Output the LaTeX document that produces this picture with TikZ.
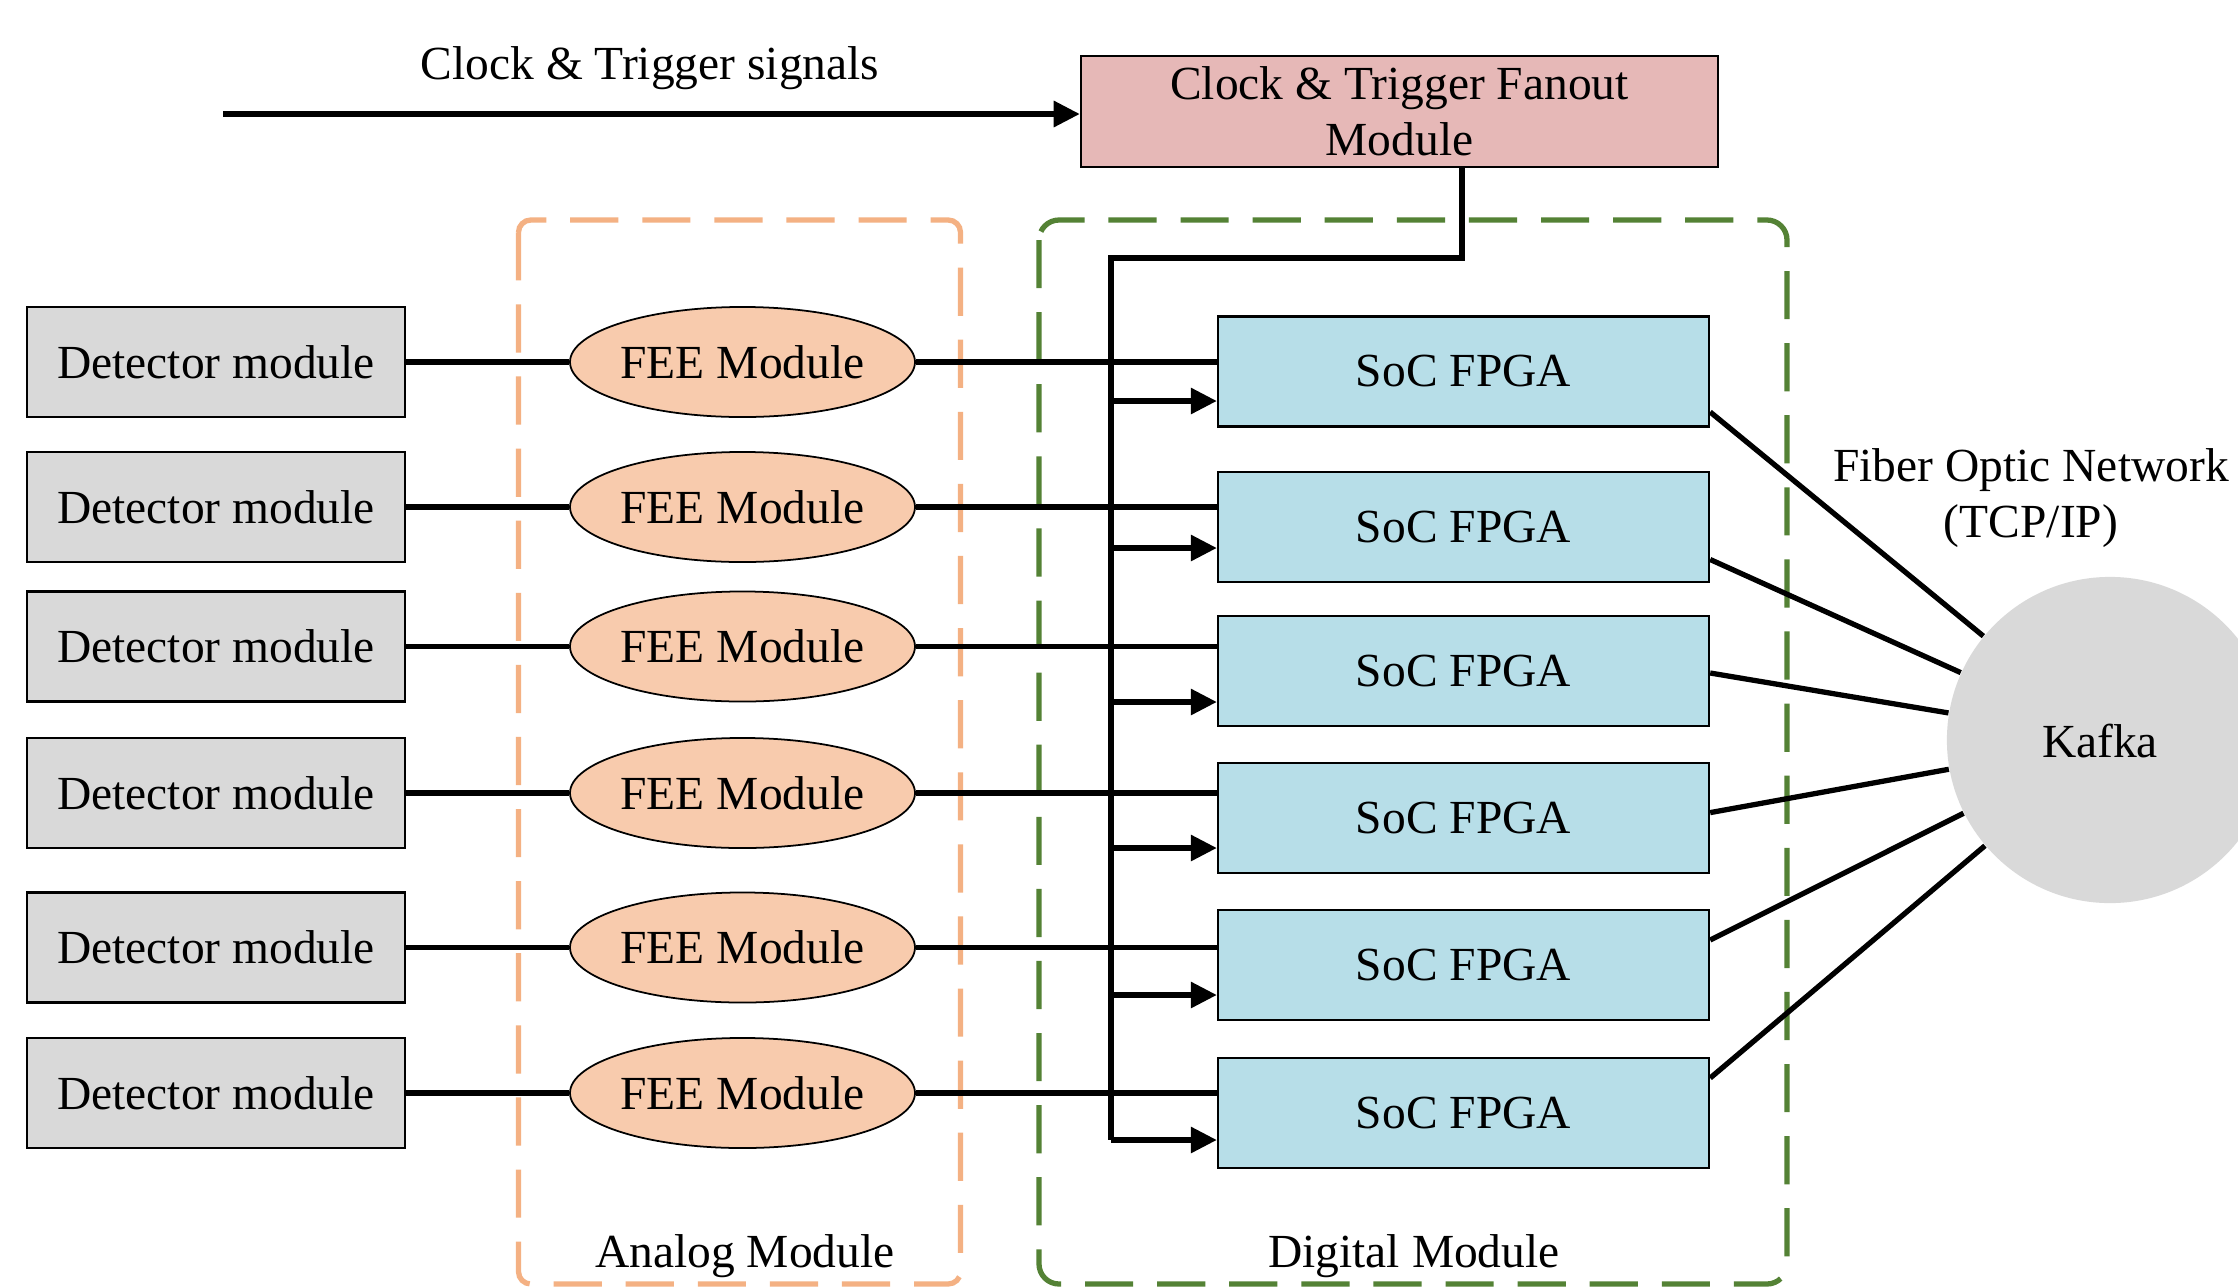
\documentclass[tikz,border=0pt]{standalone}
\usepackage{fontspec}
\setmainfont{Liberation Serif}
\usetikzlibrary{arrows.meta,calc,shapes.geometric}
\definecolor{detgray}{HTML}{D9D9D9}
\definecolor{feeorange}{HTML}{F8CBAD}
\definecolor{socblue}{HTML}{B7DEE8}
\definecolor{fanpink}{HTML}{E6B8B7}
\definecolor{anaorange}{HTML}{F4B183}
\definecolor{diggreen}{HTML}{548235}
\begin{document}
\begin{tikzpicture}[x=0.01cm,y=-0.01cm,
  every node/.style={font=\fontsize{13.5}{16}\selectfont, inner sep=0pt},
  detbox/.style={draw=black, line width=0.6pt, fill=detgray, minimum width=3.775cm, minimum height=1.1cm},
  feebox/.style={ellipse, draw=black, line width=0.5pt, fill=feeorange, minimum width=3.41cm, minimum height=1.1cm},
  socbox/.style={draw=black, line width=0.6pt, fill=socblue, minimum width=4.91cm, minimum height=1.1cm},
  fanbox/.style={draw=black, line width=0.6pt, fill=fanpink, minimum width=6.37cm, minimum height=1.11cm, align=center},
  kafkanode/.style={circle, fill=detgray, minimum size=3.26cm},
  conn/.style={line width=1.5pt},
  arr/.style={conn, -{Triangle[length=7.4pt,width=7.2pt]}},
  regionbox/.style={line width=1.5pt, dash pattern=on 13.7pt off 6.8pt}
]
\fill[white] (0,0) rectangle (2238,1287);
\clip (0,0) rectangle (2238,1287);

% dashed regions
\draw[regionbox, draw=anaorange, rounded corners=3.5pt] (518.5,220) rectangle (960.5,1284);
\draw[regionbox, draw=diggreen, rounded corners=5.7pt] (1039,220) rectangle (1787,1284);
\node (analoglbl) at (745,1256) {Analog Module};
\node (digitallbl) at (1414,1256) {Digital Module};

% top
\node[fanbox] (fanout) at (1399.5,111.5) {Clock \& Trigger Fanout\\Module};
\node (ctlabel) at (650,68) {Clock \& Trigger signals};
\coordinate (ctin) at (223,114);
\draw[arr] (ctin) -- (ctin -| fanout.west);

% Kafka
\node[kafkanode] (kafka) at (2110,740) {};
\node (kafkalbl) at (2100,741) {Kafka};
\node[align=center] (fiber) at (2031,498) {Fiber Optic Network\\(TCP/IP)};

% rows
\foreach \i/\ry/\sy/\ad/\kd in {1/362/371.5/29.5/40.5, 2/507/527/21/32.5, 3/646.5/671/31/2, 4/793/818/30/-5.4, 5/947.5/965/30/-25, 6/1093/1113/27/-35}{
  \node[detbox] (det\i) at (216,\ry) {Detector module};
  \node[feebox] (fee\i) at (742.5,\ry) {FEE Module};
  \node[socbox] (soc\i) at (1463.5,\sy) {SoC FPGA};
  \draw[conn] (det\i.east) -- (fee\i.west);
  \draw[conn] (fee\i.east) -- (fee\i.east -| soc\i.west);
  \coordinate (a\i) at ($(soc\i.west)+(0,\ad)$);
  \coordinate (k\i) at ($(soc\i.east)+(0,\kd)$);
  \draw[conn] (k\i) -- (kafka);
}

% clock bus
\coordinate (fdrop) at ($(fanout.south)+(62.5,0)$);
\coordinate (bustop) at (1111,258);
\coordinate (busbot) at (bustop |- a6);
\draw[conn] (fdrop) |- (bustop) -- (busbot);
\foreach \i in {1,...,6}{
  \draw[arr] (a\i -| bustop) -- (a\i);
}
\end{tikzpicture}
\end{document}
